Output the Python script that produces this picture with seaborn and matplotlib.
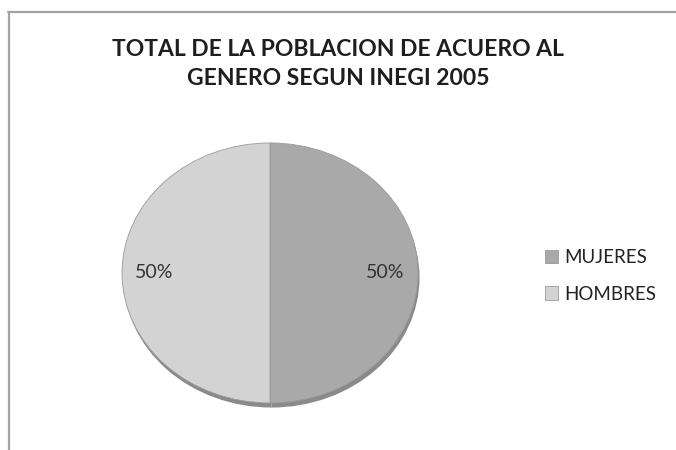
import numpy as np
import matplotlib
matplotlib.use("Agg")
import matplotlib.pyplot as plt
import seaborn as sns
from matplotlib.lines import Line2D

# data
categories = ['MUJERES', 'HOMBRES']
shares = [50, 50]
slice_colors = ['#a9a9a9', '#d3d3d3']
title_text = 'TOTAL DE LA POBLACION DE ACUERO AL\nGENERO SEGUN INEGI 2005'

sns.set_theme(style='white')
plt.rcParams['font.family'] = ['Lato', 'DejaVu Sans']

fig = plt.figure(figsize=(6.76, 4.5), dpi=100)
fig.patch.set_facecolor('white')

# chart frame (cropped: only top and left edges visible)
fig.add_artist(Line2D([8 / 676, 1.0], [1 - 12 / 450, 1 - 12 / 450],
                      color='#a3a3a3', lw=1.6, transform=fig.transFigure))
fig.add_artist(Line2D([9 / 676, 9 / 676], [0, 1 - 12 / 450],
                      color='#a3a3a3', lw=1.6, transform=fig.transFigure))

fig.text(0.5, 1 - 64 / 450, title_text, ha='center', va='center',
         fontsize=16.5, fontweight='bold', color='#1e1e1e', linespacing=1.5)

ax = fig.add_axes([0.1586, 0.0756, 0.4817, 0.6356])

# darker rim below the pie for the 3D look
ax.pie(shares, colors=['#8a8a8a', '#8a8a8a'], startangle=90, counterclock=False,
       center=(0.01, -0.035), radius=1.0,
       wedgeprops=dict(linewidth=0))

wedges, texts, autotexts = ax.pie(
    shares, colors=slice_colors, startangle=90, counterclock=False,
    autopct='%1.0f%%', pctdistance=0.78,
    wedgeprops=dict(linewidth=0.6, edgecolor='#9a9a9a'),
    textprops=dict(fontsize=14, color='#333333'))

ax.set_aspect('auto')
ax.set_xlim(-1.1, 1.1)
ax.set_ylim(-1.1, 1.1)
ax.axis('off')

fig.legend(wedges, categories, loc='upper left',
           bbox_to_anchor=(528 / 676, 1 - 232 / 450), frameon=False,
           fontsize=13.5, handlelength=0.7, handleheight=0.7,
           handletextpad=0.35, labelspacing=1.05, labelcolor='#222222')

fig.savefig('out.png', dpi=100, facecolor='white')
